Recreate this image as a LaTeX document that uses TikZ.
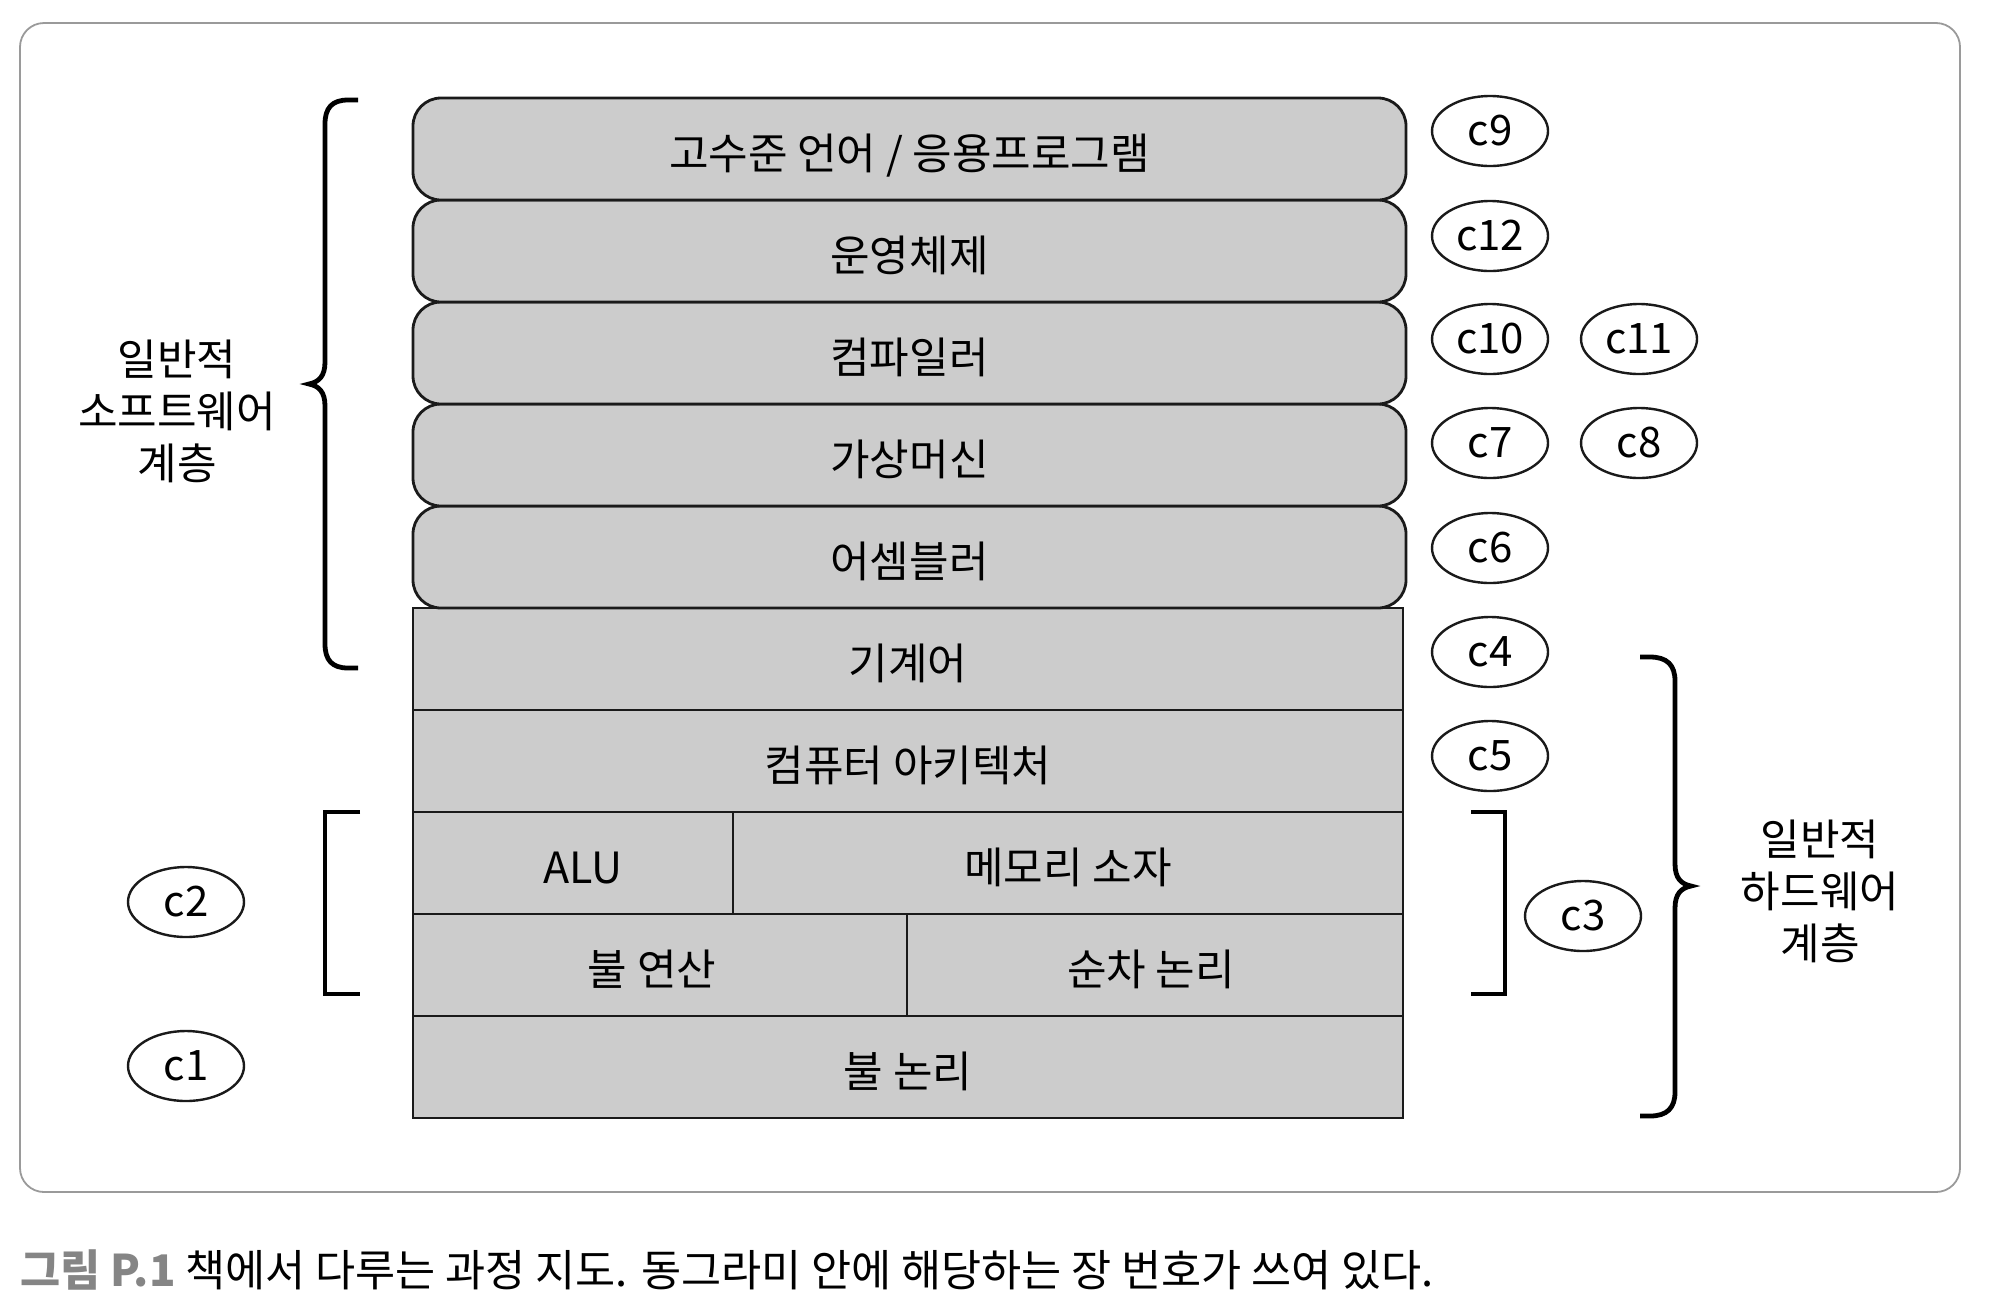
\documentclass[tikz,border=0pt]{standalone}
\usepackage{fontspec}
\setmainfont{Noto Sans CJK KR}
\usetikzlibrary{shapes.geometric}
\definecolor{cellfill}{HTML}{CCCCCC}
\definecolor{edgecol}{HTML}{1A1A1A}
\definecolor{framecol}{HTML}{9A9A9A}
\definecolor{capgray}{HTML}{858585}
\tikzset{
  txt/.style={font=\fontsize{21.5pt}{26pt}\selectfont},
  celltxt/.style={txt, text height=24pt, text depth=4pt},
  rbox/.style={celltxt, draw=edgecol, fill=cellfill, line width=1.4pt, rounded corners=14pt,
    minimum width=496.5pt, minimum height=51pt, inner sep=0pt, outer sep=0pt},
  cell/.style={celltxt, draw=edgecol, fill=cellfill, line width=1.3pt,
    minimum height=51pt, inner sep=0pt, outer sep=0pt},
  chap/.style={font=\fontsize{21pt}{26pt}\selectfont, draw=edgecol, ellipse, line width=1.2pt,
    minimum width=58pt, minimum height=35pt, inner sep=0pt},
  brace/.style={draw=black, line width=2.4pt},
  brk/.style={draw=black, line width=2.2pt},
  lbl/.style={font=\fontsize{21.5pt}{26pt}\selectfont, align=center}
}
\begin{document}
\begin{tikzpicture}[x=0.5pt,y=-0.5pt]
\useasboundingbox (0,0) rectangle (2000,1313);
% frame
\draw[framecol, line width=0.9pt, rounded corners=12pt] (20,23) rectangle (1960,1192);

% rectangular cells (bottom first)
\node[cell, minimum width=495pt] (boollogic) at (908,1067) {불 논리};
\node[cell, minimum width=247pt] (boolop) at (660,965) {\hspace*{-8pt}불 연산};
\node[cell, minimum width=248pt] (seq) at (1155,965) {\hspace*{-4pt}순차 논리};
\node[cell, minimum width=160pt] (alu) at (573,863) {\hspace*{10pt}ALU};
\node[cell, minimum width=335pt] (mem) at (1068,863) {메모리 소자};
\node[cell, minimum width=495pt] (arch) at (908,761) {컴퓨터 아키텍처};
\node[cell, minimum width=495pt] (mach) at (908,659) {기계어};

% rounded cells
\node[rbox] (asm) at (909.5,557) {어셈블러};
\node[rbox] (vm) at (909.5,455) {가상머신};
\node[rbox] (comp) at (909.5,353) {컴파일러};
\node[rbox] (os) at (909.5,251) {운영체제};
\node[rbox] (hll) at (909.5,149) {고수준 언어 / 응용프로그램};

% chapter ellipses
\node[chap] (c9) at (1490,131) {c9};
\node[chap] (c12) at (1490,236) {c12};
\node[chap] (c10) at (1490,339) {c10};
\node[chap] (c11) at (1639,339) {c11};
\node[chap] (c7) at (1490,443) {c7};
\node[chap] (c8) at (1639,443) {c8};
\node[chap] (c6) at (1490,548) {c6};
\node[chap] (c4) at (1490,652) {c4};
\node[chap] (c5) at (1490,756) {c5};
\node[chap] (c3) at (1583,916) {c3};
\node[chap] (c2) at (186,902) {c2};
\node[chap] (c1) at (186,1066) {c1};

% left brace (software)
\draw[brace] (358,100) -- (348,100) .. controls (332,100) and (325,108) .. (325,124)
  -- (325,362) .. controls (325,376) and (319,382) .. (309,384)
  .. controls (319,386) and (325,392) .. (325,406)
  -- (325,644) .. controls (325,660) and (332,668) .. (348,668) -- (358,668);
% right brace (hardware)
\draw[brace] (1640,657) -- (1650,657) .. controls (1667,657) and (1675,665) .. (1675,681)
  -- (1675,864) .. controls (1675,878) and (1681,884) .. (1691,886)
  .. controls (1681,888) and (1675,894) .. (1675,908)
  -- (1675,1092) .. controls (1675,1108) and (1667,1116) .. (1650,1116) -- (1640,1116);
% brackets
\draw[brk] (360,812) -- (325,812) -- (325,994) -- (360,994);
\draw[brk] (1471,812) -- (1505,812) -- (1505,994) -- (1471,994);

% layer labels
\node[lbl] (swlbl) at (177,411) {일반적\\소프트웨어\\계층};
\node[lbl] (hwlbl) at (1820,891) {일반적\\하드웨어\\계층};

% caption
\node[font=\fontsize{21.8pt}{26pt}\selectfont, anchor=west, inner sep=0pt] (cap) at (20,1270)
  {{\bfseries\color{capgray}그림 P.1} 책에서 다루는 과정 지도. 동그라미 안에 해당하는 장 번호가 쓰여 있다.};
\end{tikzpicture}
\end{document}
